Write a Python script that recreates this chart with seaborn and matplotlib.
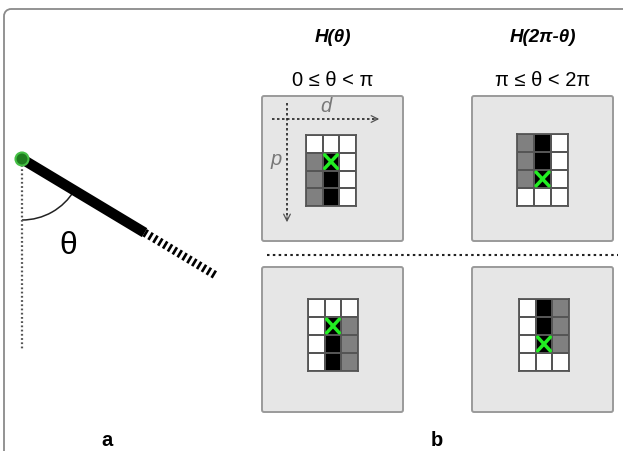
import numpy as np
import matplotlib
matplotlib.use("Agg")
import matplotlib.pyplot as plt
from matplotlib.colors import ListedColormap
from matplotlib.patches import Arc, Circle, FancyBboxPatch
import seaborn as sns

sns.set_style("white")
plt.rcParams['font.family'] = ['Liberation Sans', 'DejaVu Sans']
plt.rcParams['text.color'] = 'black'

# cell states: 0 = white, 1 = grey, 2 = black ; X marks the pivot cell (row, col)
grid_top_left = [[0, 0, 0], [1, 2, 0], [1, 2, 0], [1, 2, 0]]
grid_top_right = [[1, 2, 0], [1, 2, 0], [1, 2, 0], [0, 0, 0]]
grid_bot_left = [[0, 0, 0], [0, 2, 1], [0, 2, 1], [0, 2, 1]]
grid_bot_right = [[0, 2, 1], [0, 2, 1], [0, 2, 1], [0, 0, 0]]
x_top_left = (1, 1)
x_top_right = (2, 1)
x_bot_left = (1, 1)
x_bot_right = (2, 1)

col_titles = ["H(θ)", "H(2π-θ)"]
col_ranges = ["0 ≤ θ < π", "π ≤ θ < 2π"]
panel_labels = ["a", "b"]
theta_deg = 59  # angle of the rod from the vertical

W, H = 623, 452
fig = plt.figure(figsize=(W / 100, H / 100), dpi=100)
ax = fig.add_axes([0, 0, 1, 1])
ax.set_xlim(0, W)
ax.set_ylim(H, 0)
ax.axis('off')

# outer border (top and left, rounded corner)
ax.plot([4, 4], [H, 17], color='#8a8a8a', lw=1.3, solid_capstyle='butt')
ax.add_patch(Arc((11, 17), 14, 14, theta1=180, theta2=270, color='#8a8a8a', lw=1.3))
ax.plot([11, W], [10, 10], color='#8a8a8a', lw=1.3, solid_capstyle='butt')

# ---- panel a: rod ----
cx, cy = 22, 160
ang = np.deg2rad(90 - theta_deg)
ux, uy = np.cos(ang), np.sin(ang)
L1, L2 = 143, 226
ax.plot([cx, cx], [cy + 6, 350], color='#555555', lw=1.6, ls=(0, (0.8, 1.1)))
ax.plot([cx, cx + L1 * ux], [cy, cy + L1 * uy], color='black', lw=7.5,
        solid_capstyle='butt', zorder=3)
ax.plot([cx + L1 * ux, cx + L2 * ux], [cy + L1 * uy, cy + L2 * uy], color='black',
        lw=6.0, ls=(0, (0.32, 0.36)), dash_capstyle='butt', zorder=3)
ax.add_patch(Circle((cx, cy), 6.5, facecolor='#1e7d1e', edgecolor='#45c045', lw=1.5, zorder=4))
ax.add_patch(Arc((cx, cy), 122, 122, theta1=90 - theta_deg, theta2=90, color='#222222', lw=1.1))
ax.text(68, 246, "θ", fontsize=23, ha='center', va='center')

# ---- panel b ----
title_x = [333, 543]
for tx, t, r in zip(title_x, col_titles, col_ranges):
    ax.text(tx, 38, t, fontsize=13.5, fontweight='bold', fontstyle='italic', ha='center', va='center')
    ax.text(tx, 81, r, fontsize=14.5, ha='center', va='center')

boxes = [(262, 97, 403, 242), (472, 97, 613, 242), (262, 268, 403, 413), (472, 268, 613, 413)]
for x0, y0, x1, y1 in boxes:
    ax.add_patch(FancyBboxPatch((x0, y0), x1 - x0, y1 - y0,
                                boxstyle='round,pad=0,rounding_size=2',
                                facecolor='#e6e6e6', edgecolor='#9a9a9a', lw=1.4))

ax.plot([267, 618], [256, 256], color='#222222', lw=1.5, ls=(0, (1.2, 1.6)))

# d / p axes in first box
ax.plot([272, 378], [120, 120], color='#222222', lw=1.2, ls=(0, (1.5, 1.5)))
ax.annotate('', xy=(382, 120), xytext=(372, 120),
            arrowprops=dict(arrowstyle='->', color='#555555', lw=0.9, mutation_scale=12))
ax.plot([287, 287], [104, 221], color='#222222', lw=1.2, ls=(0, (1.5, 1.5)))
ax.annotate('', xy=(287, 226), xytext=(287, 215),
            arrowprops=dict(arrowstyle='->', color='#555555', lw=0.9, mutation_scale=12))
ax.text(326, 106, "d", fontsize=14.5, fontstyle='italic', color='#777777', ha='center', va='center')
ax.text(276, 160, "p", fontsize=14.5, fontstyle='italic', color='#777777', ha='center', va='center')

for lab, lx in zip(panel_labels, [107, 437]):
    ax.text(lx, 441, lab, fontsize=14.5, fontweight='bold', ha='center', va='center')

# pixel grids via seaborn heatmaps
cmap = ListedColormap(['white', '#808080', 'black'])
grids = [(grid_top_left, x_top_left, (306, 136, 356, 207)),
         (grid_top_right, x_top_right, (517, 135, 568, 207)),
         (grid_bot_left, x_bot_left, (308, 300, 358, 372)),
         (grid_bot_right, x_bot_right, (519, 300, 569, 372))]
for g, (xr, xc), (x0, y0, x1, y1) in grids:
    gax = fig.add_axes([x0 / W, 1 - y1 / H, (x1 - x0) / W, (y1 - y0) / H])
    sns.heatmap(np.array(g), ax=gax, cmap=cmap, vmin=-0.5, vmax=2.5, cbar=False,
                linewidths=1.2, linecolor='#555555', xticklabels=False, yticklabels=False)
    for s in gax.spines.values():
        s.set_visible(True)
        s.set_color('#555555')
        s.set_linewidth(1.3)
    gax.plot([xc + 0.12, xc + 0.88], [xr + 0.12, xr + 0.88], color='#22ee22', lw=2.5)
    gax.plot([xc + 0.12, xc + 0.88], [xr + 0.88, xr + 0.12], color='#22ee22', lw=2.5)

fig.savefig("out.png", dpi=100)
